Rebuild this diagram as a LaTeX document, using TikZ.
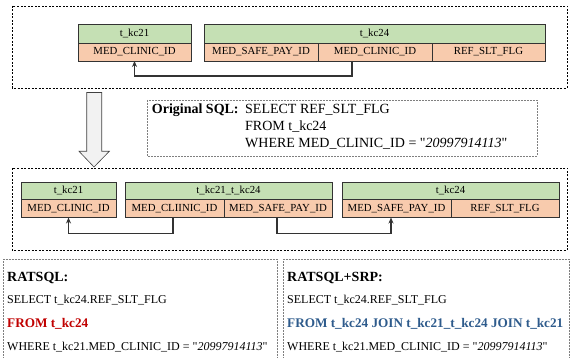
\documentclass[tikz,border=0pt]{standalone}
\usepackage{fontspec}
\setmainfont{Liberation Serif}[Ligatures=TeXOff]
\usetikzlibrary{arrows.meta}
\definecolor{hdrgreen}{HTML}{C5E0B4}
\definecolor{fldorange}{HTML}{F8CBAD}
\definecolor{tabline}{HTML}{333333}
\definecolor{redtxt}{HTML}{C00000}
\definecolor{bluetxt}{HTML}{2E5B8C}
\definecolor{boxgray}{HTML}{7F7F7F}
\definecolor{arrowfill}{HTML}{F2F2F2}
\newcommand{\dq}{\char34\relax}
\tikzset{
  x=1pt, y=-1pt,
  cell/.style={draw=tabline, line width=0.8pt, inner sep=0pt, outer sep=0pt, anchor=north west,
    font=\fontsize{10.8}{12}\selectfont},
  hdr/.style={cell, fill=hdrgreen},
  fld/.style={cell, fill=fldorange},
  conn/.style={draw=tabline, line width=1.2pt, -{Stealth[length=6pt,width=5pt]}},
  outerbox/.style={draw=black, line width=0.6pt, dash pattern=on 2pt off 1.5pt},
  graybox/.style={draw=boxgray, line width=0.6pt, dash pattern=on 2pt off 1pt},
  txt/.style={anchor=base west, inner sep=0pt, font=\fontsize{12}{14}\selectfont},
  sqltxt/.style={anchor=base west, inner sep=0pt, font=\fontsize{14}{16}\selectfont},
}
\begin{document}
\begin{tikzpicture}
\useasboundingbox (0,0) rectangle (572,358);
% outer dashed boxes
\draw[outerbox] (12,6) rectangle (567,88);
\draw[outerbox] (12,168) rectangle (567,250);
% top tables
\node[hdr, minimum width=113pt, minimum height=19pt] (a21h) at (78,24) {t\_kc21};
\node[fld, minimum width=113pt, minimum height=18pt] (a21c) at (78,43) {MED\_CLINIC\_ID};
\node[hdr, minimum width=341pt, minimum height=19pt] (a24h) at (204,24) {t\_kc24};
\node[fld, minimum width=114pt, minimum height=18pt] (a24c1) at (204,43) {MED\_SAFE\_PAY\_ID};
\node[fld, minimum width=114pt, minimum height=18pt] (a24c2) at (318,43) {MED\_CLINIC\_ID};
\node[fld, minimum width=113pt, minimum height=18pt] (a24c3) at (432,43) {REF\_SLT\_FLG};
\draw[conn] ([xshift=-23pt]a24c2.south) -- ++(0,15) -| (a21c.south);
% big arrow
\draw[fill=arrowfill, draw=black!75, line width=0.6pt]
  (86.7,92.5) -- (101.7,92.5) -- (101.7,151.3) -- (109.3,151.3) -- (94,167) -- (79,151.3) -- (86.7,151.3) -- cycle;
% original SQL
\draw[graybox] (147,100) rectangle (537,156);
\node[sqltxt, font=\fontsize{14}{16}\selectfont\bfseries] (osql) at (151.7,114) {Original SQL:};
\node[sqltxt] (os1) at (245,114) {SELECT REF\_SLT\_FLG};
\node[sqltxt] (os2) at (245,131) {FROM t\_kc24};
\node[sqltxt] (os3) at (245,148) {WHERE MED\_CLINIC\_ID = \dq\textit{20997914113}\dq};
% middle tables
\node[hdr, minimum width=95pt, minimum height=17.5pt] (b21h) at (21,182) {t\_kc21};
\node[fld, minimum width=95pt, minimum height=18pt] (b21c) at (21,199.5) {MED\_CLINIC\_ID};
\node[hdr, minimum width=207pt, minimum height=17.5pt] (bjh) at (125,182) {t\_kc21\_t\_kc24};
\node[fld, minimum width=99pt, minimum height=18pt] (bjc1) at (125,199.5) {MED\_CLIINIC\_ID};
\node[fld, minimum width=108pt, minimum height=18pt] (bjc2) at (224,199.5) {MED\_SAFE\_PAY\_ID};
\node[hdr, minimum width=217pt, minimum height=17.5pt] (b24h) at (342,182) {t\_kc24};
\node[fld, minimum width=109pt, minimum height=18pt] (b24c1) at (342,199.5) {MED\_SAFE\_PAY\_ID};
\node[fld, minimum width=108pt, minimum height=18pt] (b24c2) at (451,199.5) {REF\_SLT\_FLG};
\draw[conn] ([xshift=-1.5pt]bjc1.south) -- ++(0,16) -| (b21c.south);
\draw[conn] ([xshift=-1pt]bjc2.south) -- ++(0,16) -| ([xshift=-5.5pt]b24c1.south);
% bottom boxes
\draw[graybox] (3,358.5) -- (3,259) -- (277,259) -- (277,358.5);
\draw[graybox] (283,358.5) -- (283,259) -- (569,259) -- (569,358.5);
\node[txt, font=\fontsize{14}{16}\selectfont\bfseries] (r1) at (7,281) {RATSQL:};
\node[txt] (r2) at (7,303) {SELECT t\_kc24.REF\_SLT\_FLG};
\node[txt, font=\fontsize{13.2}{15}\selectfont\bfseries, text=redtxt] (r3) at (7,327.5) {FROM t\_kc24};
\node[txt] (r4) at (7,350) {WHERE t\_kc21.MED\_CLINIC\_ID = \dq\textit{20997914113}\dq};
\node[txt, font=\fontsize{14}{16}\selectfont\bfseries] (s1) at (287,281) {RATSQL+SRP:};
\node[txt] (s2) at (287,303) {SELECT t\_kc24.REF\_SLT\_FLG};
\node[txt, font=\fontsize{13.2}{15}\selectfont\bfseries, text=bluetxt] (s3) at (287,327.5) {FROM t\_kc24 JOIN t\_kc21\_t\_kc24 JOIN t\_kc21};
\node[txt] (s4) at (287,350) {WHERE t\_kc21.MED\_CLINIC\_ID = \dq\textit{20997914113}\dq};
\end{tikzpicture}
\end{document}
